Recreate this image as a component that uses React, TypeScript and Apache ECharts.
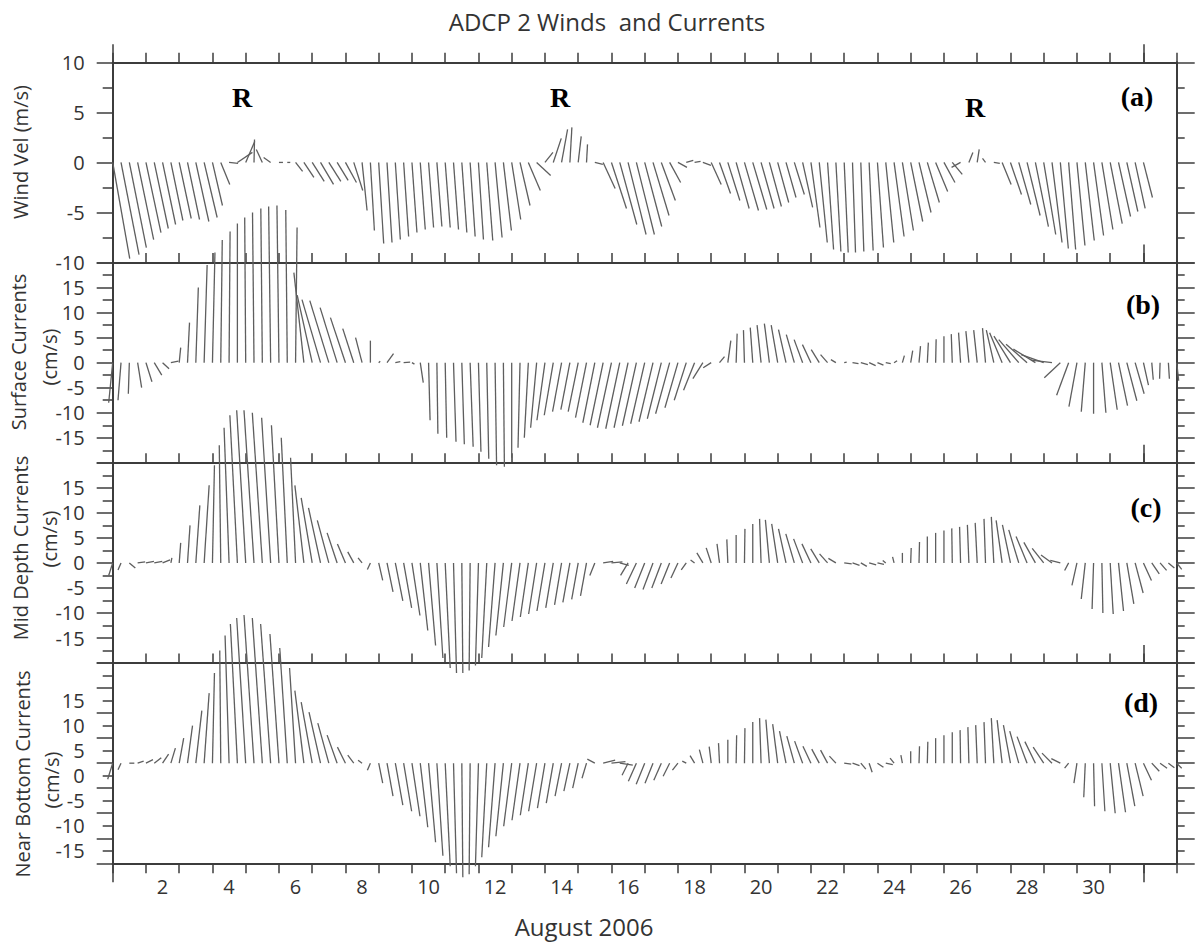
import React, { useEffect, useRef } from "react";
import * as echarts from "echarts";

// Sampling grid: day-of-month axis, Aug 1 00:00 = 1, six-hourly samples
const START_DAY = 1;
const STEP_DAYS = 0.25;

// Tick labels on the time axis (day numbers, placed mid-day)
const DAY_LABELS = [2, 4, 6, 8, 10, 12, 14, 16, 18, 20, 22, 24, 26, 28, 30];
// Month-start ticks (drawn longer)
const MONTH_STARTS = [1, 32];

// (a) Wind velocity, m/s : east (u) and north (v) components
const WIND_U = [
  1.7, 1.8, 1.7, 1.6, 1.5, 1.4, 1.3, 1.2, 1.2, 1.2, 1.3, 1.3, 1.0, 0.9, 0.9, 1.5, 0.9, 0.05, -0.6, -0.7,
  0.4, 0.3, 0.7, 1.0, 1.2, 1.3, 1.2, 1.1, 1.1, 0.9, 0.5, 0.4, 0.5, 0.5, 0.5, 0.5, 0.5, 0.5, 0.5, 0.5,
  0.5, 0.5, 0.5, 0.5, 0.5, 0.6, 0.7, 0.8, 0.9, 1.0, 1.2, 1.4, 0.8, 0.8, 0.6, 0.2, 0.3, 0.1, 0.8, 1.2,
  1.5, 1.7, 1.8, 1.8, 1.7, 1.6, 1.4, 1.1, 0.9, 0.7, 0.6, 0.8, 1.0, 1.1, 1.2, 1.3, 1.4, 1.4, 1.3, 1.2,
  1.1, 1.0, 1.0, 1.0, 0.9, 0.8, 0.6, 0.5, 0.4, 0.3, 0.3, 0.4, 0.6, 0.8, 1.0, 1.1, 1.2, 1.2, 1.2, 1.2,
  1.1, 1.0, -0.9, 0.4, 0.2, -0.3, 0.6, 0.9, 1.1, 1.2, 1.3, 1.3, 1.2, 1.0, 0.8, 0.7, 0.8, 0.9, 1.0, 1.1,
  1.2, 1.2, 1.1, 1.0, 0.9,
];
const WIND_V = [
  -9.6, -9.2, -8.5, -7.7, -7.0, -6.6, -6.2, -5.8, -5.6, -5.7, -5.9, -5.5, -4.3, -2.2, -0.1, 1.0, 2.1, 2.3, 1.3, 0.5,
  0.0, 0.0, -0.9, -1.5, -1.9, -2.2, -1.9, -1.8, -2.0, -2.8, -4.8, -6.8, -8.1, -8.0, -7.7, -7.4, -7.0, -6.7, -6.5, -6.4,
  -6.5, -6.7, -7.0, -7.4, -7.7, -7.8, -7.5, -6.8, -5.7, -4.3, -2.8, -1.3, 1.0, 2.4, 3.3, 3.5, 2.6, 1.8, -0.2, -2.6,
  -4.6, -6.2, -7.2, -7.2, -6.4, -5.3, -3.8, -2.0, -0.5, 0.2, 0.1, -0.3, -2.2, -3.1, -3.8, -4.6, -4.8, -4.7, -4.6, -4.4,
  -4.0, -3.5, -3.2, -4.5, -6.5, -8.0, -8.7, -8.9, -9.0, -9.0, -8.9, -8.8, -8.5, -8.0, -7.4, -6.8, -5.9, -5.0, -4.0, -2.9,
  -2.0, -1.2, -0.5, 1.0, 1.3, 0.4, -0.1, -2.2, -3.2, -4.2, -5.3, -6.4, -7.2, -8.0, -8.6, -8.7, -8.3, -7.8, -7.3, -6.7,
  -6.1, -5.4, -4.9, -4.6, -3.5,
];

// (b) Surface currents, cm/s
const SURF_U = [
  -0.8, -0.6, -0.2, 0.8, 1.2, 1.5, 1.3, 1.5, 0.3, 0.4, 0.5, 0.6, 0.5, 0.3, 0.2, 0.0, -0.2, -0.3, -0.3, -0.4,
  -0.4, -0.3, 0.3, -2.0, -3.0, -3.7, -3.8, -3.4, -3.0, -2.2, -1.3, 0.0, 0.3, 1.3, 1.0, 1.3, 0.5, 0.6, 0.3, 0.2,
  0.3, 0.5, 0.5, 0.6, 0.5, 0.4, 0.3, 0.2, 0.0, -0.4, -0.8, -1.2, -1.6, -1.8, -1.8, -1.8, -2.0, -2.2, -2.4, -2.6,
  -2.8, -2.8, -2.8, -2.8, -2.8, -2.8, -2.8, -2.8, -2.6, -2.4, -2.2, -2.0, -1.6, 1.0, 0.6, 0.2, -0.2, -0.5, -0.8, -1.0,
  -1.3, -1.5, -1.6, -1.7, -1.7, -1.6, -1.4, -1.0, 0.5, 1.2, 1.4, 1.3, 1.2, 1.0, 0.6, 0.4, 0.4, 0.3, 0.2, 0.1,
  0.0, -0.2, -0.4, -0.6, -0.7, -0.6, -1.5, -2.5, -3.3, -4.0, -4.2, -4.4, -4.5, -4.2, -3.2, -2.4, -1.6, -0.8, 0.0, 0.8,
  1.4, 1.8, 2.0, 1.8, 1.0, 0.3, -0.1, 0.2, 0.4,
];
const SURF_V = [
  -8.0, -7.5, -6.2, -5.0, -3.8, -2.5, -1.2, 0.3, 3.0, 8.0, 15.0, 19.5, 22.0, 24.5, 26.2, 27.8, 29.0, 30.0, 30.8, 31.2,
  31.4, 30.5, 27.0, 18.0, 13.5, 12.6, 12.4, 11.0, 9.0, 6.8, 5.0, 4.4, 0.3, 1.8, 0.2, 0.1, -0.3, -4.0, -11.5, -14.2,
  -15.0, -15.8, -16.3, -16.8, -17.8, -19.2, -20.5, -20.8, -19.0, -17.0, -15.0, -13.0, -11.5, -10.5, -9.8, -9.4, -9.8, -11.0, -12.0, -12.5,
  -13.0, -13.2, -13.0, -12.6, -12.2, -11.8, -11.2, -10.2, -9.0, -7.5, -5.5, -3.2, -1.0, 1.2, 4.4, 5.8, 6.5, 7.0, 7.5, 7.8,
  7.5, 6.6, 5.6, 4.6, 3.6, 2.6, 1.6, 0.6, 0.1, -0.2, -0.4, -0.6, -0.5, -0.2, 0.4, 1.4, 2.4, 3.3, 4.0, 4.7,
  5.3, 5.7, 6.0, 6.3, 6.5, 6.9, 6.5, 6.0, 5.3, 4.6, 3.7, 2.7, 1.6, 0.5, -3.0, -6.5, -8.8, -9.8, -10.2, -10.0,
  -9.4, -8.6, -7.6, -6.2, -4.5, -3.4, -3.2, -3.2, -3.6,
];

// (c) Mid depth currents, cm/s
const MID_U = [
  -0.8, -0.6, 1.2, 1.5, 1.6, 1.6, 1.5, 0.2, 0.3, 0.5, 0.8, 1.0, 0.4, -0.3, -1.0, -1.5, -1.8, -2.0, -2.0, -1.8,
  -1.5, -1.2, -1.0, -1.8, -2.2, -2.4, -2.3, -2.0, -1.6, -1.2, -0.8, -0.6, 0.8, 1.2, 1.5, 1.6, 1.6, 1.5, 1.4, 1.2,
  1.0, 0.6, 0.2, -0.2, -0.6, -1.0, -1.3, -1.5, -1.6, -1.6, -1.6, -1.6, -1.6, -1.5, -1.4, -1.4, -1.3, -1.2, -1.0, 2.0,
  2.2, 1.8, -1.5, -2.0, -2.0, -2.0, -1.9, -1.7, -1.4, -1.0, -0.8, -1.2, -1.0, -0.5, -0.2, 0.0, 0.1, 0.0, -0.3, -0.8,
  -1.2, -1.5, -1.7, -1.8, -1.8, -1.7, -1.6, -1.5, 1.5, 1.4, 1.2, 1.4, 1.3, -0.6, -0.3, 0.0, 0.1, 0.1, 0.0, 0.0,
  0.0, -0.1, -0.2, -0.3, -0.4, -0.3, -0.5, -1.2, -1.6, -2.0, -2.2, -2.3, -2.3, -2.2, -2.0, -0.8, -1.0, -0.8, -0.3, 0.2,
  0.6, 1.0, 1.4, 1.6, 1.6, 1.5, 1.3, 1.2, 1.0,
];
const MID_V = [
  -2.5, -1.4, -1.0, 0.2, 0.3, 0.3, 0.6, 1.0, 4.0, 7.5, 11.5, 15.5, 19.5, 23.5, 27.0, 29.5, 30.5, 30.5, 30.0, 29.0,
  27.5, 25.0, 21.0, 15.5, 13.0, 11.0, 8.5, 6.0, 3.8, 2.2, 1.0, -1.3, -3.5, -5.8, -7.6, -9.0, -10.5, -13.5, -16.5, -19.0,
  -21.0, -22.0, -22.0, -21.5, -20.5, -19.0, -16.8, -14.5, -12.8, -11.6, -10.8, -10.2, -9.6, -9.0, -8.4, -7.9, -7.3, -6.6, -2.5, 0.3,
  0.2, -0.5, -2.5, -4.2, -5.0, -5.3, -5.0, -4.2, -3.0, -1.4, 0.6, 2.0, 3.0, 3.8, 4.7, 5.6, 6.8, 7.8, 8.8, 8.6,
  7.8, 6.8, 5.8, 4.8, 3.8, 2.8, 1.8, 0.9, -0.2, -0.5, -0.7, -0.4, -0.3, 0.5, 1.2, 2.0, 3.0, 4.2, 5.3, 6.0,
  6.5, 6.9, 7.2, 7.6, 8.0, 8.8, 9.2, 8.5, 7.6, 6.6, 5.3, 4.1, 2.9, 1.6, 0.5, -1.5, -4.5, -7.2, -9.2, -10.0,
  -10.2, -9.6, -8.2, -6.0, -3.5, -2.2, -1.5, -1.0, -1.3,
];

// (d) Near bottom currents, cm/s
const BOT_U = [
  -1.0, -0.6, 1.0, 1.2, 1.4, 1.4, 1.2, 0.9, 0.9, 1.0, 1.2, 1.0, 0.4, -0.2, -0.8, -1.4, -1.8, -2.0, -2.0, -2.0,
  -1.8, -1.5, -1.2, -1.8, -2.2, -2.3, -2.2, -2.0, -1.6, -1.2, -0.8, -0.6, 0.8, 1.2, 1.5, 1.6, 1.6, 1.5, 1.4, 1.2,
  1.0, 0.6, 0.2, -0.2, -0.6, -1.0, -1.3, -1.5, -1.6, -1.6, -1.6, -1.6, -1.5, -1.4, -1.3, -1.2, -1.1, -0.9, -1.5, 2.4,
  2.8, 2.6, -1.2, -1.6, -1.7, -1.6, -1.5, -1.3, -1.1, -0.8, -0.9, -0.7, -0.4, -0.2, 0.0, 0.1, 0.1, 0.0, -0.3, -0.7,
  -1.0, -1.3, -1.5, -1.6, -1.6, -1.5, -1.4, -1.3, 1.4, 1.4, 1.0, 0.6, 1.2, 1.4, -0.8, -0.3, 0.0, 0.1, 0.1, 0.0,
  0.0, 0.0, -0.1, -0.2, -0.3, -0.3, -0.5, -1.0, -1.4, -1.8, -2.0, -2.1, -2.1, -2.0, -1.8, -0.8, -0.6, -0.3, 0.2, 0.6,
  1.0, 1.4, 1.6, 1.6, 1.6, 1.5, 1.4, 1.2, 1.0,
];
const BOT_V = [
  -3.2, -1.3, 0.0, 0.4, 0.7, 1.1, 1.8, 3.0, 5.0, 7.5, 10.5, 14.0, 18.0, 22.5, 25.5, 27.8, 29.0, 29.6, 29.0, 27.8,
  25.8, 23.0, 19.0, 14.5, 12.2, 10.2, 8.0, 5.6, 3.2, 1.6, 0.6, -1.4, -4.0, -6.6, -8.4, -9.6, -10.6, -12.8, -15.8, -18.5,
  -20.6, -22.0, -22.8, -22.2, -20.6, -18.8, -16.8, -14.6, -12.6, -11.4, -10.4, -9.6, -9.0, -8.0, -6.6, -5.6, -5.0, -3.0, 0.8, 0.6,
  0.3, -0.4, -2.4, -3.6, -4.2, -4.0, -3.4, -2.6, -1.4, 0.4, 1.5, 2.7, 3.3, 4.0, 4.7, 5.6, 7.0, 8.2, 9.0, 8.7,
  7.8, 6.4, 5.4, 4.4, 3.4, 2.8, 2.6, 1.4, -0.2, -0.5, -1.2, -1.8, -0.8, -0.3, 1.0, 1.6, 2.4, 3.4, 4.3, 5.0,
  5.6, 6.2, 6.6, 7.2, 7.6, 8.2, 9.0, 8.6, 7.6, 6.4, 5.3, 4.3, 3.2, 2.0, 0.9, -1.0, -4.0, -6.8, -8.6, -9.6,
  -10.0, -9.8, -8.6, -6.6, -3.4, -1.6, -1.0, -0.9, -1.0,
];

const Y_LABELS_WIND = [-10, -5, 0, 5, 10];
const Y_LABELS_CUR = [-15, -10, -5, 0, 5, 10, 15];

const AX = "#3c3c3c";
const STICK = "#5e5e5e";
const TXT = "#333";
const SANS = "'Open Sans', 'Noto Sans', sans-serif";
const SERIF = "'Liberation Serif', 'DejaVu Serif', serif";

const GRID_LEFT = 112.7;
const GRID_RIGHT = 1196 - 1176.7;
const GRID_TOP0 = 62.3;
const GRID_H = 200.25;

export default function App() {
  const ref = useRef<HTMLDivElement>(null);

  useEffect(() => {
    document.body.style.margin = "0";
    const chart = echarts.init(ref.current!, null, { renderer: "svg" });

    const panels = [
      { u: WIND_U, v: WIND_V, min: -10, max: 10 },
      { u: SURF_U, v: SURF_V, min: -20, max: 20 },
      { u: MID_U, v: MID_V, min: -20, max: 20 },
      { u: BOT_U, v: BOT_V, min: -20, max: 20 },
    ];

    const grids: any[] = [];
    const xAxes: any[] = [];
    const yAxes: any[] = [];
    const series: any[] = [];

    const tickStyle = { color: AX, width: 1.5 };
    const labelFont = { fontFamily: SANS, fontSize: 20, color: TXT };

    panels.forEach((p, k) => {
      grids.push({ left: GRID_LEFT, right: GRID_RIGHT, top: GRID_TOP0 + k * GRID_H, height: GRID_H, containLabel: false });

      const mainX = xAxes.length;
      xAxes.push({
        gridIndex: k, type: "value", min: 1, max: 33, interval: 1, position: "top",
        axisLine: { show: true, onZero: false, lineStyle: { color: AX, width: 2 } },
        axisTick: { show: true, inside: false, length: 9.5, lineStyle: tickStyle },
        axisLabel: { show: false }, splitLine: { show: false },
      });
      xAxes.push({
        gridIndex: k, type: "value", min: 1, max: 33, interval: 1, position: "top",
        axisLine: { show: false, onZero: false },
        axisTick: { show: true, inside: false, length: 18, customValues: MONTH_STARTS, lineStyle: tickStyle },
        axisLabel: { show: false }, splitLine: { show: false },
      });
      if (k === 3) {
        xAxes.push({
          gridIndex: k, type: "value", min: 1, max: 33, interval: 1, position: "bottom",
          axisLine: { show: true, onZero: false, lineStyle: { color: AX, width: 2 } },
          axisTick: { show: true, inside: false, length: 10, lineStyle: tickStyle },
          axisLabel: {
            show: true, margin: 13, ...labelFont,
            customValues: DAY_LABELS.map((d) => d + 0.5),
            formatter: (val: number) => String(Math.round(val - 0.5)),
          },
          splitLine: { show: false },
        });
        xAxes.push({
          gridIndex: k, type: "value", min: 1, max: 33, interval: 1, position: "bottom",
          axisLine: { show: false, onZero: false },
          axisTick: { show: true, inside: false, length: 19, customValues: MONTH_STARTS, lineStyle: tickStyle },
          axisLabel: { show: false }, splitLine: { show: false },
        });
      }

      const leftY = yAxes.length;
      yAxes.push({
        gridIndex: k, type: "value", min: p.min, max: p.max, interval: 5, position: "left",
        axisLine: { show: true, onZero: false, lineStyle: { color: AX, width: 2 } },
        axisTick: { show: true, inside: false, length: 16, lineStyle: tickStyle },
        minorTick: { show: true, splitNumber: 2, length: 10, lineStyle: tickStyle },
        axisLabel: k === 3
          ? { show: false }
          : { show: true, margin: 28, ...labelFont, customValues: k === 0 ? Y_LABELS_WIND : Y_LABELS_CUR },
        splitLine: { show: false }, minorSplitLine: { show: false },
      });
      yAxes.push({
        gridIndex: k, type: "value", min: p.min, max: p.max, interval: 5, position: "right",
        axisLine: { show: true, onZero: false, lineStyle: { color: AX, width: 2 } },
        axisTick: { show: true, inside: false, length: 18, lineStyle: tickStyle },
        minorTick: { show: true, splitNumber: 2, length: 8, lineStyle: tickStyle },
        axisLabel: { show: false }, splitLine: { show: false },
      });
      if (k === 3) {
        // labels of panel (d) sit one minor tick below their values in the original
        yAxes.push({
          gridIndex: k, type: "value", min: -17.5, max: 22.5, position: "left",
          axisLine: { show: false, onZero: false }, axisTick: { show: false },
          axisLabel: { show: true, margin: 28, ...labelFont, customValues: Y_LABELS_CUR },
          splitLine: { show: false },
        });
      }

      const data = p.u.map((u, i) => [START_DAY + i * STEP_DAYS, u, p.v[i]]);
      series.push({
        type: "custom",
        xAxisIndex: mainX,
        yAxisIndex: leftY,
        clip: false,
        encode: { x: 0, y: 2 },
        data,
        renderItem: (_params: any, api: any) => {
          const t = api.value(0) as number;
          const u = api.value(1) as number;
          const v = api.value(2) as number;
          const base = api.coord([t, 0]);
          const one = api.coord([t, 1]);
          const px = Math.abs(base[1] - one[1]);
          return {
            type: "line",
            shape: { x1: base[0], y1: base[1], x2: base[0] + u * px, y2: base[1] - v * px },
            style: { stroke: STICK, lineWidth: 1.3 },
          };
        },
      });
    });

    const vText = (text: string, x: number, y: number) => ({
      type: "text", x, y, rotation: Math.PI / 2,
      style: { text, fontFamily: SANS, fontSize: 20, fill: TXT, align: "center", verticalAlign: "middle" },
    });
    const bold = (text: string, x: number, y: number) => ({
      type: "text", x, y,
      style: { text, fontFamily: SERIF, fontWeight: "bold", fontSize: 28, fill: "#000", align: "center", verticalAlign: "middle" },
    });

    const option: any = {
      animation: false,
      backgroundColor: "#ffffff",
      grid: grids,
      xAxis: xAxes,
      yAxis: yAxes,
      series,
      graphic: {
        elements: [
          { type: "text", x: 607, y: 21, style: { text: "ADCP 2 Winds  and Currents", fontFamily: SANS, fontSize: 24, fill: TXT, align: "center", verticalAlign: "middle" } },
          { type: "text", x: 584, y: 926, style: { text: "August 2006", fontFamily: SANS, fontSize: 24, fill: TXT, align: "center", verticalAlign: "middle" } },
          vText("Wind Vel (m/s)", 20, 152),
          vText("Surface Currents", 18, 352),
          vText("(cm/s)", 49, 357),
          vText("Mid Depth Currents", 20, 548),
          vText("(cm/s)", 49, 539),
          vText("Near Bottom Currents", 22, 774),
          vText("(cm/s)", 51, 780),
          bold("R", 242, 97),
          bold("R", 560, 97),
          bold("R", 975, 107),
          bold("(a)", 1137, 96),
          bold("(b)", 1143, 304),
          bold("(c)", 1146, 507),
          bold("(d)", 1141, 702),
        ],
      },
    };

    chart.setOption(option);
    return () => chart.dispose();
  }, []);

  return <div ref={ref} style={{ width: 1196, height: 945 }} />;
}
